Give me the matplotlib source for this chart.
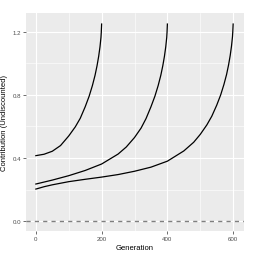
import numpy as np
import matplotlib
matplotlib.use("Agg")
import matplotlib.pyplot as plt

# values
gen_200 = [0, 25, 50, 75, 100, 120, 135, 150, 162, 172, 180, 186, 191, 195, 198, 199, 200]
contrib_200 = [0.415, 0.424, 0.443, 0.479, 0.54, 0.598, 0.652, 0.725, 0.792, 0.86, 0.925,
               0.985, 1.045, 1.105, 1.165, 1.2, 1.25]

gen_400 = [0, 50, 100, 150, 200, 250, 275, 300, 320, 335, 350, 362, 372, 380, 386, 391,
           395, 398, 399, 400]
contrib_400 = [0.235, 0.26, 0.288, 0.321, 0.362, 0.425, 0.47, 0.53, 0.59, 0.65, 0.725,
               0.792, 0.86, 0.925, 0.985, 1.045, 1.105, 1.165, 1.2, 1.25]

gen_600 = [0, 25, 50, 100, 150, 200, 250, 300, 350, 400, 450, 480, 500, 520, 535, 550,
           562, 572, 580, 586, 591, 595, 598, 599, 600]
contrib_600 = [0.203, 0.218, 0.23, 0.25, 0.265, 0.279, 0.295, 0.316, 0.342, 0.38, 0.445,
               0.5, 0.55, 0.61, 0.665, 0.735, 0.8, 0.867, 0.93, 0.99, 1.05, 1.11, 1.17,
               1.205, 1.25]

xticks = [0, 200, 400, 600]
yticks = [0.0, 0.4, 0.8, 1.2]
yticklabels = ["0.0", "0.4", "0.8", "1.2"]

plt.rcParams['font.family'] = ['Liberation Sans', 'DejaVu Sans']

fig = plt.figure(figsize=(2.61, 2.55), dpi=100)
ax = fig.add_axes([26 / 261, 1 - 232 / 255, 218 / 261, 218 / 255])
ax.set_facecolor("#EBEBEB")

for g, c in [(gen_200, contrib_200), (gen_400, contrib_400), (gen_600, contrib_600)]:
    ax.plot(g, c, color="black", lw=0.9, zorder=3, solid_joinstyle="round")

ax.axhline(0, color="#7F7F7F", lw=1.0, ls=(0, (3, 3)), zorder=3)

ax.set_xlim(-30, 633)
ax.set_ylim(-0.063, 1.32)

ax.set_xticks(xticks)
ax.set_xticklabels([str(t) for t in xticks])
ax.set_yticks(yticks)
ax.set_yticklabels(yticklabels)
ax.set_xticks([100, 300, 500], minor=True)
ax.set_yticks([0.2, 0.6, 1.0], minor=True)

ax.grid(which="major", color="white", lw=0.8)
ax.grid(which="minor", color="white", lw=0.4)
ax.set_axisbelow(True)
for s in ax.spines.values():
    s.set_visible(False)

ax.tick_params(which="major", length=2, width=0.5, color="#333333",
               labelsize=4.4, labelcolor="#4D4D4D", pad=1.5)
ax.tick_params(which="minor", length=0)

ax.set_xlabel("Generation", fontsize=5.5, labelpad=2)
ax.set_ylabel("Contribution (Undiscounted)", fontsize=5.5, labelpad=3)

fig.savefig("out.png", dpi=100)
